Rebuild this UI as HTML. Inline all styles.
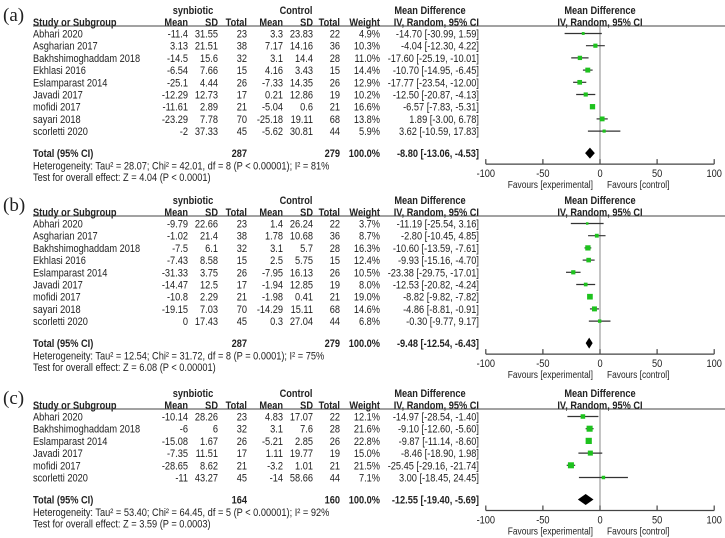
<!DOCTYPE html>
<html><head><meta charset="utf-8">
<style>
html,body{margin:0;padding:0;background:#fff;}
svg{display:block;font-family:"Liberation Sans",Arial,sans-serif;font-size:11px;fill:#222;}
.b{font-weight:bold;}
</style></head>
<body>
<svg id="chart" width="725" height="538" viewBox="0 0 725 538" xmlns="http://www.w3.org/2000/svg"></svg>
<script>
// ---- data: panel (a)
const aStudies = ["Abhari 2020","Asgharian 2017","Bakhshimoghaddam 2018","Ekhlasi 2016","Eslamparast 2014","Javadi 2017","mofidi 2017","sayari 2018","scorletti 2020"];
const aM1 = ["-11.4","3.13","-14.5","-6.54","-25.1","-12.29","-11.61","-23.29","-2"];
const aSD1 = ["31.55","21.51","15.6","7.66","4.44","12.73","2.89","7.78","37.33"];
const aN1 = ["23","38","32","15","26","17","21","70","45"];
const aM2 = ["3.3","7.17","3.1","4.16","-7.33","0.21","-5.04","-25.18","-5.62"];
const aSD2 = ["23.83","14.16","14.4","3.43","14.35","12.86","0.6","19.11","30.81"];
const aN2 = ["22","36","28","15","26","19","21","68","44"];
const aW = [4.9,10.3,11.0,14.4,12.9,10.2,16.6,13.8,5.9];
const aMD = [-14.70,-4.04,-17.60,-10.70,-17.77,-12.50,-6.57,1.89,3.62];
const aLo = [-30.99,-12.30,-25.19,-14.95,-23.54,-20.87,-7.83,-3.00,-10.59];
const aHi = [1.59,4.22,-10.01,-6.45,-12.00,-4.13,-5.31,6.78,17.83];
const aTot = {n1:"287",n2:"279",md:-8.80,lo:-13.06,hi:-4.53};
const aHet = "Heterogeneity: Tau\u00b2 = 28.07; Chi\u00b2 = 42.01, df = 8 (P < 0.00001); I\u00b2 = 81%";
const aTest = "Test for overall effect: Z = 4.04 (P < 0.0001)";
// ---- data: panel (b)
const bStudies = aStudies;
const bM1 = ["-9.79","-1.02","-7.5","-7.43","-31.33","-14.47","-10.8","-19.15","0"];
const bSD1 = ["22.66","21.4","6.1","8.58","3.75","12.5","2.29","7.03","17.43"];
const bN1 = aN1;
const bM2 = ["1.4","1.78","3.1","2.5","-7.95","-1.94","-1.98","-14.29","0.3"];
const bSD2 = ["26.24","10.68","5.7","5.75","16.13","12.85","0.41","15.11","27.04"];
const bN2 = aN2;
const bW = [3.7,8.7,16.3,12.4,10.5,8.0,19.0,14.6,6.8];
const bMD = [-11.19,-2.80,-10.60,-9.93,-23.38,-12.53,-8.82,-4.86,-0.30];
const bLo = [-25.54,-10.45,-13.59,-15.16,-29.75,-20.82,-9.82,-8.81,-9.77];
const bHi = [3.16,4.85,-7.61,-4.70,-17.01,-4.24,-7.82,-0.91,9.17];
const bTot = {n1:"287",n2:"279",md:-9.48,lo:-12.54,hi:-6.43};
const bHet = "Heterogeneity: Tau\u00b2 = 12.54; Chi\u00b2 = 31.72, df = 8 (P = 0.0001); I\u00b2 = 75%";
const bTest = "Test for overall effect: Z = 6.08 (P < 0.00001)";
// ---- data: panel (c)
const cStudies = ["Abhari 2020","Bakhshimoghaddam 2018","Eslamparast 2014","Javadi 2017","mofidi 2017","scorletti 2020"];
const cM1 = ["-10.14","-6","-15.08","-7.35","-28.65","-11"];
const cSD1 = ["28.26","6","1.67","11.51","8.62","43.27"];
const cN1 = ["23","32","26","17","21","45"];
const cM2 = ["4.83","3.1","-5.21","1.11","-3.2","-14"];
const cSD2 = ["17.07","7.6","2.85","19.77","1.01","58.66"];
const cN2 = ["22","28","26","19","21","44"];
const cW = [12.1,21.6,22.8,15.0,21.5,7.1];
const cMD = [-14.97,-9.10,-9.87,-8.46,-25.45,3.00];
const cLo = [-28.54,-12.60,-11.14,-18.90,-29.16,-18.45];
const cHi = [-1.40,-5.60,-8.60,1.98,-21.74,24.45];
const cTot = {n1:"164",n2:"160",md:-12.55,lo:-19.40,hi:-5.69};
const cHet = "Heterogeneity: Tau\u00b2 = 53.40; Chi\u00b2 = 64.45, df = 5 (P < 0.00001); I\u00b2 = 92%";
const cTest = "Test for overall effect: Z = 3.59 (P = 0.0003)";
const axisTicks = [-100,-50,0,50,100];

const NS = "http://www.w3.org/2000/svg";
const svg = document.getElementById("chart");
const SX = 0.84;
function xs(v){ return 600 + v*1.142; }
function el(tag, attrs, parent){ const e=document.createElementNS(NS,tag); for(const k in attrs) e.setAttribute(k,attrs[k]); (parent||svg).appendChild(e); return e; }
function txt(s,x,y,anchor,cls,parent){ const t=el("text",{x:0,y:0,"text-anchor":anchor||"start",transform:"translate("+x+","+(y+4)+") scale("+SX+",1)"},parent); if(cls) t.setAttribute("class",cls); t.textContent=s; return t; }
function f2(v){ return v.toFixed(2); }
function ci(md,lo,hi){ return f2(md)+" ["+f2(lo)+", "+f2(hi)+"]"; }

function panel(label, top, st, m1, sd1, n1, m2, sd2, n2, w, md, lo, hi, tot, het, test){
  const g = el("g",{});
  
  
  const lab = el("text",{x:3,y:top+21,"font-family":"Liberation Serif, serif","font-size":"19"},g);
  
  
  lab.textContent = "("+label+")";
  let t;
  t=txt("synbiotic",193,top+10,"middle","b",g);
  
  
  t=txt("Control",296,top+10,"middle","b",g);
  
  
  t=txt("Mean Difference",430,top+10,"middle","b",g);
  
  
  t=txt("Mean Difference",600,top+10,"middle","b",g);
  
  
  const hy = top+22;
  const heads = [["Study or Subgroup",33,"start"],["Mean",188,"end"],["SD",218,"end"],["Total",247,"end"],["Mean",283,"end"],["SD",313,"end"],["Total",340,"end"],["Weight",380,"end"],["IV, Random, 95% CI",479,"end"],["IV, Random, 95% CI",600,"middle"]];
  heads.forEach(h=>{ t=txt(h[0],h[1],hy,h[2],"b",g);
    
     });
  const ln = el("line",{x1:33,x2:725,y1:top+26,y2:top+26,stroke:"#444","stroke-width":1},g);
  
  
  const rowY = i => top+33.5+12.2*i;
  const last = rowY(st.length-1);
  const totY = last+22;
  const axY = totY+11;
  const zl = el("line",{x1:xs(0),x2:xs(0),y1:top+26,y2:axY,stroke:"#888","stroke-width":1},g);
  
  
  st.forEach((s,i)=>{
    const y=rowY(i);
    const cols=[[s,33,"start"],[m1[i],188,"end"],[sd1[i],218,"end"],[n1[i],247,"end"],[m2[i],283,"end"],[sd2[i],313,"end"],[n2[i],340,"end"],[w[i].toFixed(1)+"%",380,"end"],[ci(md[i],lo[i],hi[i]),479,"end"]];
    cols.forEach(c=>{ const tt=txt(c[0],c[1],y,c[2],null,g);
      
       });
    const wl = el("line",{x1:xs(lo[i]),x2:xs(hi[i]),y1:y,y2:y,stroke:"#333","stroke-width":1.2},g);
    
    
    const sz = 1.3*Math.sqrt(w[i]);
    const bx = el("rect",{x:xs(md[i])-sz/2,y:y-sz/2,width:sz,height:sz,fill:"#1ec21e"},g);
    
    
  });
  const tc=[["Total (95% CI)",33,"start"],[tot.n1,247,"end"],[tot.n2,340,"end"],["100.0%",380,"end"],[ci(tot.md,tot.lo,tot.hi),479,"end"]];
  tc.forEach(c=>{ const tt=txt(c[0],c[1],totY,c[2],"b",g);
    
     });
  const dm = el("polygon",{points:[xs(tot.lo)+","+totY, xs(tot.md)+","+(totY-5.5), xs(tot.hi)+","+totY, xs(tot.md)+","+(totY+5.5)].join(" "),fill:"#000"},g);
  
  
  t=txt(het,33,totY+12.5,"start",null,g);
  
  
  t=txt(test,33,totY+24,"start",null,g);
  
  
  const ax = el("line",{x1:xs(-100),x2:xs(100),y1:axY,y2:axY,stroke:"#444","stroke-width":1.2},g);
  
  
  axisTicks.forEach(v=>{
    const tk = el("line",{x1:xs(v),x2:xs(v),y1:axY-5,y2:axY,stroke:"#444","stroke-width":1.2},g);
    
    
    const tl = txt(String(v),xs(v),axY+9,"middle",null,g);
    
    
  });
  t=txt("Favours [experimental]",593,axY+20,"end",null,g);
  
  
  t.setAttribute('font-size','10');
  t=txt("Favours [control]",607,axY+20,"start",null,g);
  
  
  t.setAttribute('font-size','10');
}
panel("a",0,aStudies,aM1,aSD1,aN1,aM2,aSD2,aN2,aW,aMD,aLo,aHi,aTot,aHet,aTest);
panel("b",190,bStudies,bM1,bSD1,bN1,bM2,bSD2,bN2,bW,bMD,bLo,bHi,bTot,bHet,bTest);
panel("c",383,cStudies,cM1,cSD1,cN1,cM2,cSD2,cN2,cW,cMD,cLo,cHi,cTot,cHet,cTest);
</script>
</body></html>
